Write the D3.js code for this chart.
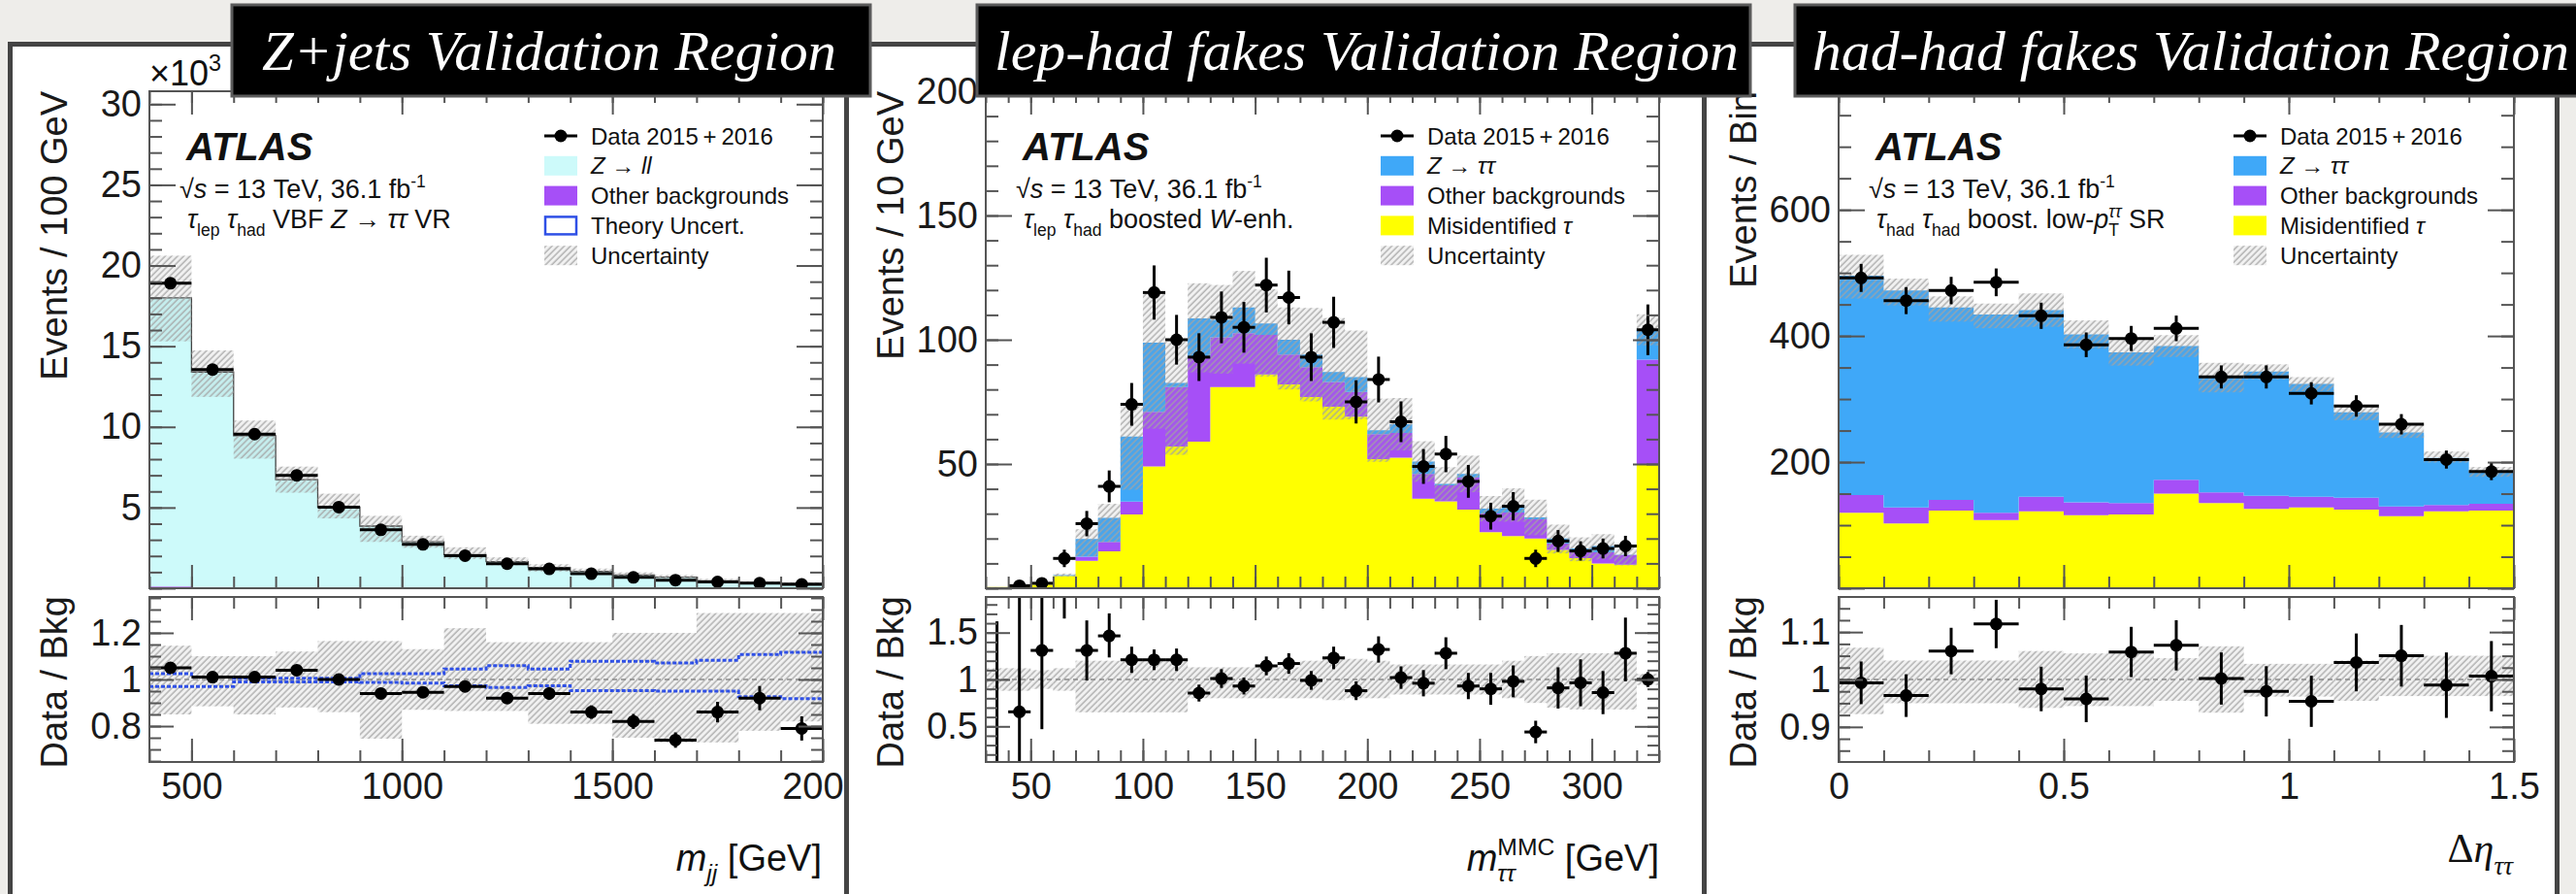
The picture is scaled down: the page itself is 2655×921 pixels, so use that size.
<!DOCTYPE html>
<html><head><meta charset="utf-8">
<script src="https://cdn.jsdelivr.net/npm/d3@7"></script>
<style>body{margin:0;background:#eeedea;} svg{display:block}</style>
</head><body>
<svg id="c" width="2655" height="921"></svg>
<script>
// ======================= DATA =======================
// Panel 1 : Z+jets VR, m_jj [GeV], values in 10^3 events / 100 GeV
const p1Edges   = [400,500,600,700,800,900,1000,1100,1200,1300,1400,1500,1600,1700,1800,1900,2000];
const p1Data    = [18.9,13.55,9.55,7.0,5.03,3.62,2.72,2.02,1.52,1.2,0.9,0.67,0.5,0.39,0.31,0.24];
const p1DataErr = [0.14,0.12,0.1,0.085,0.07,0.06,0.052,0.045,0.039,0.035,0.03,0.026,0.022,0.02,0.018,0.016];
const p1Other   = [0.10,0.08,0.06,0.05,0.04,0.035,0.03,0.025,0.02,0.018,0.015,0.012,0.01,0.008,0.006,0.005];
const p1Zll     = [17.9,13.32,9.39,6.68,4.99,3.815,2.85,2.055,1.63,1.262,1.035,0.808,0.67,0.442,0.334,0.295];
const p1Ratio   = [1.05,1.01,1.01,1.04,1.00,0.94,0.945,0.97,0.92,0.94,0.86,0.82,0.74,0.86,0.92,0.79];
const p1RatioErr= [0.008,0.009,0.01,0.012,0.014,0.016,0.018,0.022,0.024,0.027,0.029,0.032,0.033,0.044,0.052,0.052];
const p1BandUp  = [1.145,1.10,1.10,1.12,1.165,1.165,1.13,1.22,1.16,1.16,1.16,1.20,1.20,1.285,1.285,1.285];
const p1BandDn  = [0.85,0.885,0.85,0.88,0.86,0.746,0.87,0.865,0.865,0.81,0.81,0.75,0.73,0.73,0.78,0.82];
const p1TheoUp  = [1.025,1.01,1.005,1.005,1.005,1.025,1.025,1.045,1.059,1.045,1.078,1.078,1.071,1.082,1.107,1.117];
const p1TheoDn  = [0.97,0.97,0.99,0.99,0.99,0.988,0.984,0.973,0.966,0.973,0.952,0.952,0.95,0.95,0.926,0.918];

// Panel 2 : lep-had fakes VR, m_tautau^MMC [GeV], events / 10 GeV
const p2Edges   = [30,40,50,60,70,80,90,100,110,120,130,140,150,160,170,180,190,200,210,220,230,240,250,260,270,280,290,300,310,320,330];
const p2Data    = [0,1,2,12,26,41,74,119,100,93,109,105,122,117,93,107,75,84,67,49,54,43,29,33,12,19,15,16,17,104];
const p2DataErr = [0,1,1.4,3.5,5.1,6.4,8.6,10.9,10,9.6,10.4,10.2,11,10.8,9.6,10.3,8.7,9.2,8.2,7,7.3,6.6,5.4,5.7,3.5,4.4,3.9,4,4.1,10.2];
const p2Misid   = [0.5,1.4,1.5,5,11,14.8,29.7,49,57,59,81,81,86,82,77,73,69,52,52.5,36,35,31.6,22.6,21,20,15.4,12.1,10,9.5,50];
const p2Other   = [0,0.1,0,0,1.7,3.9,5.2,22,24,34,20,21.6,16,12,12,10,10,10,10,10,6.4,13,7.5,9.5,7.7,2.6,2.6,4.5,3.9,42];
const p2Ztt     = [0,0,0,0.3,7.1,9.6,26.1,27.8,1.6,15.6,7,10.4,4.5,6,5,4,6,1.6,3.5,5,0.6,1.4,1.9,3,0.8,2,1.3,2.5,0.1,12];
const p2Ratio   = [0,0.655,1.31,2.3,1.31,1.465,1.21,1.21,1.21,0.855,1.01,0.93,1.145,1.17,0.99,1.23,0.88,1.32,1.02,0.96,1.28,0.93,0.90,0.98,0.44,0.91,0.965,0.86,1.28,1.0];
const p2RErrUp  = [1.62,1.5,0.6,0.8,0.32,0.24,0.14,0.11,0.12,0.09,0.1,0.09,0.1,0.11,0.1,0.12,0.1,0.14,0.12,0.14,0.17,0.14,0.17,0.17,0.12,0.22,0.25,0.23,0.38,0.08];
const p2RErrDn  = [0,0.66,0.84,0.65,0.32,0.23,0.14,0.11,0.12,0.09,0.1,0.09,0.1,0.11,0.1,0.12,0.1,0.14,0.12,0.14,0.17,0.14,0.17,0.17,0.12,0.22,0.25,0.23,0.3,0.08];
const p2BandUp  = [1.12,1.12,1.10,1.12,1.2,1.2,1.2,1.2,1.2,1.13,1.13,1.13,1.13,1.13,1.2,1.25,1.22,1.2,1.16,1.16,1.16,1.16,1.16,1.2,1.25,1.28,1.28,1.28,1.28,1.06];
const p2BandDn  = [0.88,0.88,0.9,0.88,0.65,0.65,0.65,0.65,0.65,0.8,0.8,0.8,0.8,0.8,0.8,0.78,0.8,0.8,0.84,0.84,0.84,0.84,0.84,0.8,0.75,0.7,0.68,0.68,0.68,0.94];

// Panel 3 : had-had fakes VR, delta eta_tautau, events / bin
const p3Edges   = [0,0.1,0.2,0.3,0.4,0.5,0.6,0.7,0.8,0.9,1.0,1.1,1.2,1.3,1.4,1.5];
const p3Data    = [492,456,472,485,432,386,396,412,335,335,309,289,260,204,185];
const p3DataErr = [22.2,21.4,21.7,22,20.8,19.6,19.9,20.3,18.3,18.3,17.6,17,16.1,14.3,13.6];
const p3Misid   = [119.5,102.6,123,108,122,116,117,150,135,126,128,124.6,114.3,122,123];
const p3Other   = [28.2,25.4,17,11.5,23,20.4,17.9,22,16.8,20.7,17,19,15.4,10,11];
const p3Ztt     = [347.8,344,305,314.5,296,266.1,239.1,212,182.2,196.9,179,135.4,117.3,74.5,49];
const p3Ratio   = [0.993,0.966,1.06,1.117,0.98,0.959,1.058,1.072,1.002,0.975,0.954,1.036,1.05,0.988,1.007];
const p3RatioErr= [0.045,0.045,0.049,0.051,0.047,0.049,0.053,0.053,0.055,0.053,0.054,0.061,0.065,0.069,0.074];
const p3BandUp  = [1.067,1.04,1.04,1.04,1.06,1.055,1.055,1.045,1.07,1.033,1.033,1.04,1.05,1.05,1.05];
const p3BandDn  = [0.927,0.95,0.95,0.95,0.94,0.944,0.944,0.955,0.93,0.964,0.964,0.955,0.965,0.965,0.965];

// Tick labels
const p1YLabels = [5,10,15,20,25,30], p1RLabels = [0.8,1,1.2], p1XLabels = [500,1000,1500,2000];
const p2YLabels = [50,100,150,200],   p2RLabels = [0.5,1,1.5], p2XLabels = [50,100,150,200,250,300];
const p3YLabels = [200,400,600],      p3RLabels = [0.9,1,1.1], p3XLabels = [0,0.5,1,1.5];
const titles = ["Z+jets Validation Region","lep-had fakes Validation Region","had-had fakes Validation Region"];

// ======================= DRAWING =======================
const W = 2655, H = 921;
const FONT = "'Liberation Sans', Arial, Helvetica, sans-serif";
const SERIF = "'Liberation Serif', 'DejaVu Serif', serif";
const COL = {zll:'#cdfafa', ztt:'#3fa8f8', other:'#a64ff7', misid:'#ffff00', theo:'#2f50e6'};
const MT = 94, MB = 606, RT = 615, RB = 785;

const svg = d3.select('#c');
const defs = svg.append('defs');
const pat = defs.append('pattern').attr('id','hatch').attr('patternUnits','userSpaceOnUse')
  .attr('width',4.5).attr('height',4.5).attr('patternTransform','rotate(45)');
pat.append('rect').attr('width',4.5).attr('height',4.5).attr('fill','rgba(150,150,150,0.13)');
pat.append('line').attr('x1',1).attr('y1',0).attr('x2',1).attr('y2',4.5).attr('stroke','#a3a3a3').attr('stroke-width',1.2);

svg.append('rect').attr('width',W).attr('height',H).attr('fill','#eeedea');

function richText(g, x, y, pieces, opts){
  const size = opts.size, anchor = opts.anchor || 'start';
  const els = []; let cursor = 0, prevX = 0;
  pieces.forEach(p => {
    const s = (p.sub || p.sup) ? size*0.65 : size;
    const t = g.append('text').text(p.t.replace(/ /g,'\u00a0'))
      .attr('font-size', s).attr('font-family', p.family || opts.family || FONT)
      .attr('font-style', p.i ? 'italic' : 'normal').attr('font-weight', p.b ? 'bold' : 'normal')
      .attr('fill', opts.fill || '#111');
    const w = t.node().getComputedTextLength();
    const px = p.sameX ? prevX : cursor;
    const dy = p.sub ? size*0.3 : p.sup ? -size*0.42 : 0;
    els.push({t, px, dy}); prevX = px; cursor = Math.max(cursor, px + w);
  });
  const off = anchor === 'end' ? x - cursor : anchor === 'middle' ? x - cursor/2 : x;
  els.forEach(e => e.t.attr('x', off + e.px).attr('y', y + e.dy));
}

let clipId = 0;
function drawPanel(cfg){
  const g = svg.append('g');
  g.append('rect').attr('x',cfg.px0).attr('y',45).attr('width',cfg.px1-cfg.px0).attr('height',H-45).attr('fill','#fff');
  const x  = d3.scaleLinear().domain([cfg.edges[0], cfg.edges[cfg.edges.length-1]]).range([cfg.fx0, cfg.fx1]);
  const y  = d3.scaleLinear().domain(cfg.yDomain).range([MB, MT]);
  const yr = d3.scaleLinear().domain(cfg.rDomain).range([RB, RT]);
  const n = cfg.data.length;
  const cm = 'clipm' + (++clipId), cr = 'clipr' + clipId;
  defs.append('clipPath').attr('id',cm).append('rect').attr('x',cfg.fx0).attr('y',MT).attr('width',cfg.fx1-cfg.fx0).attr('height',MB-MT);
  defs.append('clipPath').attr('id',cr).append('rect').attr('x',cfg.fx0).attr('y',RT).attr('width',cfg.fx1-cfg.fx0).attr('height',RB-RT);
  const gm = g.append('g').attr('clip-path',`url(#${cm})`);
  const gr = g.append('g').attr('clip-path',`url(#${cr})`);

  const idx = d3.range(n);
  const stepPts = arr => idx.map(i => [cfg.edges[i], arr[i]]).concat([[cfg.edges[n], arr[n-1]]]);
  let base = idx.map(() => 0);
  cfg.stacks.forEach(s => {
    const hi = idx.map(i => base[i] + s.values[i]);
    const lo = base.slice();
    const pts = idx.map(i => ({x: cfg.edges[i], lo: lo[i], hi: hi[i]})).concat([{x: cfg.edges[n], lo: lo[n-1], hi: hi[n-1]}]);
    gm.append('path').datum(pts).attr('fill', s.color)
      .attr('d', d3.area().curve(d3.curveStepAfter).x(d => x(d.x)).y0(d => y(d.lo)).y1(d => y(d.hi)));
    base = hi;
  });
  const total = base;
  if (cfg.outline){
    gm.append('path').datum(stepPts(total)).attr('fill','none').attr('stroke','#444').attr('stroke-width',1.3)
      .attr('d', d3.line().curve(d3.curveStepAfter).x(d => x(d[0])).y(d => y(d[1])));
  }
  gm.selectAll(null).data(idx).join('rect')
    .attr('x', i => x(cfg.edges[i])).attr('width', i => x(cfg.edges[i+1]) - x(cfg.edges[i]))
    .attr('y', i => y(total[i]*cfg.bandUp[i])).attr('height', i => y(total[i]*cfg.bandDn[i]) - y(total[i]*cfg.bandUp[i]))
    .attr('fill','url(#hatch)');
  const dm = gm.append('g');
  idx.filter(i => cfg.data[i] > 0).forEach(i => {
    const cx = x((cfg.edges[i]+cfg.edges[i+1])/2), cy = y(cfg.data[i]);
    dm.append('line').attr('x1',x(cfg.edges[i])).attr('x2',x(cfg.edges[i+1])).attr('y1',cy).attr('y2',cy).attr('stroke','#000').attr('stroke-width',3);
    dm.append('line').attr('x1',cx).attr('x2',cx).attr('y1',y(cfg.data[i]-cfg.dataErr[i])).attr('y2',y(cfg.data[i]+cfg.dataErr[i])).attr('stroke','#000').attr('stroke-width',3);
    dm.append('circle').attr('cx',cx).attr('cy',cy).attr('r',6.5).attr('fill','#000');
  });
  gr.selectAll(null).data(idx).join('rect')
    .attr('x', i => x(cfg.edges[i])).attr('width', i => x(cfg.edges[i+1]) - x(cfg.edges[i]))
    .attr('y', i => yr(cfg.bandUp[i])).attr('height', i => yr(cfg.bandDn[i]) - yr(cfg.bandUp[i]))
    .attr('fill','url(#hatch)');
  gr.append('line').attr('x1',cfg.fx0).attr('x2',cfg.fx1).attr('y1',yr(1)).attr('y2',yr(1))
    .attr('stroke','#8a8a8a').attr('stroke-width',1.6).attr('stroke-dasharray','5,4');
  if (cfg.theoUp){
    [cfg.theoUp, cfg.theoDn].forEach(arr => {
      gr.append('path').datum(stepPts(arr)).attr('fill','none').attr('stroke',COL.theo).attr('stroke-width',3)
        .attr('stroke-dasharray','4,2')
        .attr('d', d3.line().curve(d3.curveStepAfter).x(d => x(d[0])).y(d => yr(d[1])));
    });
  }
  const dr = gr.append('g');
  idx.forEach(i => {
    const cx = x((cfg.edges[i]+cfg.edges[i+1])/2), r = cfg.ratio[i], cy = yr(r);
    dr.append('line').attr('x1',cx).attr('x2',cx).attr('y1',yr(r - cfg.rErrDn[i])).attr('y2',yr(r + cfg.rErrUp[i])).attr('stroke','#000').attr('stroke-width',3);
    if (r > 0){
      dr.append('line').attr('x1',x(cfg.edges[i])).attr('x2',x(cfg.edges[i+1])).attr('y1',cy).attr('y2',cy).attr('stroke','#000').attr('stroke-width',3);
      dr.append('circle').attr('cx',cx).attr('cy',cy).attr('r',6.5).attr('fill','#000');
    }
  });

  const styleAx = sel => { sel.select('.domain').remove(); sel.selectAll('line').attr('stroke','#555').attr('stroke-width',2);
    sel.attr('font-size',38).attr('font-family',FONT); sel.selectAll('text').attr('fill','#1a1a1a'); };
  const fmt = labels => v => labels.some(l => Math.abs(l - v) < 1e-9) ? String(v) : '';
  const ax = g.append('g');
  ax.append('g').attr('transform',`translate(${cfg.fx0},0)`).call(d3.axisLeft(y).tickValues(cfg.yMajor).tickSize(-27).tickPadding(8).tickFormat(fmt(cfg.yLabels))).call(styleAx);
  ax.append('g').attr('transform',`translate(${cfg.fx0},0)`).call(d3.axisLeft(y).tickValues(cfg.yMinor).tickSize(-13).tickFormat('')).call(styleAx);
  ax.append('g').attr('transform',`translate(${cfg.fx1},0)`).call(d3.axisRight(y).tickValues(cfg.yMajor).tickSize(-27).tickFormat('')).call(styleAx);
  ax.append('g').attr('transform',`translate(${cfg.fx1},0)`).call(d3.axisRight(y).tickValues(cfg.yMinor).tickSize(-13).tickFormat('')).call(styleAx);
  [[MB, d3.axisBottom],[MT, d3.axisTop],[RT, d3.axisTop]].forEach(([yy, A]) => {
    ax.append('g').attr('transform',`translate(0,${yy})`).call(A(x).tickValues(cfg.xMajor).tickSize(-24).tickFormat('')).call(styleAx);
    ax.append('g').attr('transform',`translate(0,${yy})`).call(A(x).tickValues(cfg.xMinor).tickSize(-12).tickFormat('')).call(styleAx);
  });
  ax.append('g').attr('transform',`translate(0,${RB})`).call(d3.axisBottom(x).tickValues(cfg.xMajor).tickSize(-24).tickPadding(11).tickFormat(fmt(cfg.xLabels))).call(styleAx);
  ax.append('g').attr('transform',`translate(0,${RB})`).call(d3.axisBottom(x).tickValues(cfg.xMinor).tickSize(-12).tickFormat('')).call(styleAx);
  ax.append('g').attr('transform',`translate(${cfg.fx0},0)`).call(d3.axisLeft(yr).tickValues(cfg.rMajor).tickSize(-25).tickPadding(8).tickFormat(fmt(cfg.rLabels))).call(styleAx);
  ax.append('g').attr('transform',`translate(${cfg.fx0},0)`).call(d3.axisLeft(yr).tickValues(cfg.rMinor).tickSize(-12).tickFormat('')).call(styleAx);
  ax.append('g').attr('transform',`translate(${cfg.fx1},0)`).call(d3.axisRight(yr).tickValues(cfg.rMajor).tickSize(-25).tickFormat('')).call(styleAx);
  ax.append('g').attr('transform',`translate(${cfg.fx1},0)`).call(d3.axisRight(yr).tickValues(cfg.rMinor).tickSize(-12).tickFormat('')).call(styleAx);
  g.append('rect').attr('x',cfg.fx0).attr('y',MT).attr('width',cfg.fx1-cfg.fx0).attr('height',MB-MT).attr('fill','none').attr('stroke','#555').attr('stroke-width',2);
  g.append('rect').attr('x',cfg.fx0).attr('y',RT).attr('width',cfg.fx1-cfg.fx0).attr('height',RB-RT).attr('fill','none').attr('stroke','#555').attr('stroke-width',2);

  g.append('text').attr('transform',`translate(${cfg.fx0-85},${MT}) rotate(-90)`).attr('text-anchor','end')
    .attr('font-size',38).attr('font-family',FONT).attr('fill','#1a1a1a').text(cfg.yTitle);
  g.append('text').attr('transform',`translate(${cfg.fx0-85},${RT-1}) rotate(-90)`).attr('text-anchor','end')
    .attr('font-size',38).attr('font-family',FONT).attr('fill','#1a1a1a').text('Data / Bkg');
  richText(g, cfg.xTitleX, cfg.xTitleY, cfg.xTitle, {size: cfg.xTitleSize || 38, anchor:'end', family: cfg.xTitleFamily});

  richText(g, cfg.fx0+38, 165, [{t:'ATLAS', b:1, i:1}], {size:40});
  richText(g, cfg.fx0+31, 204, [{t:'√'},{t:'s',i:1},{t:' = 13 TeV, 36.1 fb'},{t:'-1',sup:1}], {size:27});
  richText(g, cfg.fx0+39, 235, cfg.line3, {size:27});

  const lx = cfg.fx0 + 407, tx = cfg.fx0 + 455;
  cfg.legend.forEach((e, k) => {
    const cy = 140 + k*30.8;
    if (e.type === 'data'){
      g.append('line').attr('x1',lx).attr('x2',lx+34).attr('y1',cy).attr('y2',cy).attr('stroke','#000').attr('stroke-width',3);
      g.append('circle').attr('cx',lx+17).attr('cy',cy).attr('r',6.5).attr('fill','#000');
    } else if (e.type === 'box'){
      g.append('rect').attr('x',lx).attr('y',cy-10).attr('width',34).attr('height',20).attr('fill',e.color);
    } else if (e.type === 'line'){
      g.append('rect').attr('x',lx+1).attr('y',cy-9).attr('width',32).attr('height',18).attr('fill','#fff').attr('stroke',COL.theo).attr('stroke-width',2.5);
    } else {
      g.append('rect').attr('x',lx).attr('y',cy-10).attr('width',34).attr('height',20).attr('fill','url(#hatch)');
    }
    richText(g, tx, cy+8.5, e.label, {size:24});
  });
  if (cfg.extra) cfg.extra(g);
}

const dataLbl = [{t:'Data 2015\u2009+\u20092016'}];
const legendFakes = [
  {type:'data', label: dataLbl},
  {type:'box', color: COL.ztt, label:[{t:'Z',i:1},{t:' → '},{t:'ττ',i:1}]},
  {type:'box', color: COL.other, label:[{t:'Other backgrounds'}]},
  {type:'box', color: COL.misid, label:[{t:'Misidentified '},{t:'τ',i:1}]},
  {type:'hatch', label:[{t:'Uncertainty'}]}
];

drawPanel({
  px0:10.5, px1:872.5, fx0:154, fx1:848,
  edges:p1Edges, data:p1Data, dataErr:p1DataErr,
  stacks:[{values:p1Other,color:COL.other},{values:p1Zll,color:COL.zll}], outline:true,
  ratio:p1Ratio, rErrUp:p1RatioErr, rErrDn:p1RatioErr, bandUp:p1BandUp, bandDn:p1BandDn,
  theoUp:p1TheoUp, theoDn:p1TheoDn,
  yDomain:[0,30.8], yMajor:d3.range(0,31,5), yMinor:d3.range(0,31,1), yLabels:p1YLabels,
  rDomain:[0.646,1.354], rMajor:[0.8,1,1.2], rMinor:d3.range(0.65,1.36,0.05), rLabels:p1RLabels,
  xMajor:[500,1000,1500,2000], xMinor:d3.range(400,2001,100), xLabels:p1XLabels,
  yTitle:'Events / 100 GeV',
  xTitle:[{t:'m',i:1},{t:'jj',sub:1,i:1},{t:' [GeV]'}], xTitleX:847, xTitleY:897,
  line3:[{t:'τ',i:1},{t:'lep',sub:1},{t:' '},{t:'τ',i:1},{t:'had',sub:1},{t:' VBF '},{t:'Z',i:1},{t:' → '},{t:'ττ',i:1},{t:' VR'}],
  legend:[
    {type:'data', label:dataLbl},
    {type:'box', color:COL.zll, label:[{t:'Z',i:1},{t:' → '},{t:'ll',i:1}]},
    {type:'box', color:COL.other, label:[{t:'Other backgrounds'}]},
    {type:'line', label:[{t:'Theory Uncert.'}]},
    {type:'hatch', label:[{t:'Uncertainty'}]}
  ],
  extra: g => richText(g, 154, 88, [{t:'×10'},{t:'3',sup:1}], {size:36})
});

drawPanel({
  px0:872.5, px1:1756.5, fx0:1016, fx1:1710,
  edges:p2Edges, data:p2Data, dataErr:p2DataErr,
  stacks:[{values:p2Misid,color:COL.misid},{values:p2Other,color:COL.other},{values:p2Ztt,color:COL.ztt}],
  ratio:p2Ratio, rErrUp:p2RErrUp, rErrDn:p2RErrDn, bandUp:p2BandUp, bandDn:p2BandDn,
  yDomain:[0,200], yMajor:d3.range(0,201,50), yMinor:d3.range(0,201,10), yLabels:p2YLabels,
  rDomain:[0.12,1.88], rMajor:[0.5,1,1.5], rMinor:d3.range(0.2,1.81,0.1), rLabels:p2RLabels,
  xMajor:d3.range(50,301,50), xMinor:d3.range(30,331,10), xLabels:p2XLabels,
  yTitle:'Events / 10 GeV',
  xTitle:[{t:'m',i:1},{t:'ττ',sub:1,i:1},{t:'MMC',sup:1,sameX:1},{t:' [GeV]'}], xTitleX:1710, xTitleY:897,
  line3:[{t:'τ',i:1},{t:'lep',sub:1},{t:' '},{t:'τ',i:1},{t:'had',sub:1},{t:' boosted '},{t:'W',i:1},{t:'-enh.'}],
  legend:legendFakes
});

drawPanel({
  px0:1756.5, px1:2635.5, fx0:1895, fx1:2591,
  edges:p3Edges, data:p3Data, dataErr:p3DataErr,
  stacks:[{values:p3Misid,color:COL.misid},{values:p3Other,color:COL.other},{values:p3Ztt,color:COL.ztt}],
  ratio:p3Ratio, rErrUp:p3RatioErr, rErrDn:p3RatioErr, bandUp:p3BandUp, bandDn:p3BandDn,
  yDomain:[0,788], yMajor:d3.range(0,789,200), yMinor:d3.range(0,789,50), yLabels:p3YLabels,
  rDomain:[0.826,1.174], rMajor:[0.9,1,1.1], rMinor:d3.range(0.85,1.16,0.025), rLabels:p3RLabels,
  xMajor:[0,0.5,1,1.5], xMinor:d3.range(0,1.51,0.1), xLabels:p3XLabels,
  yTitle:'Events / Bin',
  xTitle:[{t:'Δ',family:SERIF},{t:'η',i:1,family:SERIF},{t:'ττ',sub:1,i:1,family:SERIF}], xTitleX:2590, xTitleY:888, xTitleSize:42,
  line3:[{t:'τ',i:1},{t:'had',sub:1},{t:' '},{t:'τ',i:1},{t:'had',sub:1},{t:' boost. low-'},{t:'p',i:1},{t:'T',sub:1},{t:'ττ',sup:1,sameX:1,i:1},{t:' SR'}],
  legend:legendFakes
});

const bd = svg.append('g').attr('stroke','#444').attr('stroke-width',5).attr('fill','none');
bd.append('path').attr('d',`M10.5,${H+5} V45.5 H2635.5 V${H+5}`);
[872.5,1756.5].forEach(xx => bd.append('line').attr('x1',xx).attr('x2',xx).attr('y1',45).attr('y2',H));

const boxes = [{x0:239,x1:897,tx0:270,tx1:862},{x0:1007,x1:1804,tx0:1025,tx1:1792},{x0:1850,x1:2665,tx0:1868,tx1:2648}];
boxes.forEach((b,k) => {
  svg.append('rect').attr('x',b.x0).attr('y',5).attr('width',b.x1-b.x0).attr('height',94)
    .attr('fill','#000').attr('stroke','#5a5a5a').attr('stroke-width',3);
  svg.append('text').attr('x',(b.tx0+b.tx1)/2).attr('y',72).attr('text-anchor','middle')
    .attr('font-family',SERIF).attr('font-style','italic').attr('font-size',56).attr('fill','#fff')
    .attr('textLength',b.tx1-b.tx0).attr('lengthAdjust','spacingAndGlyphs').text(titles[k]);
});
</script>
</body></html>
